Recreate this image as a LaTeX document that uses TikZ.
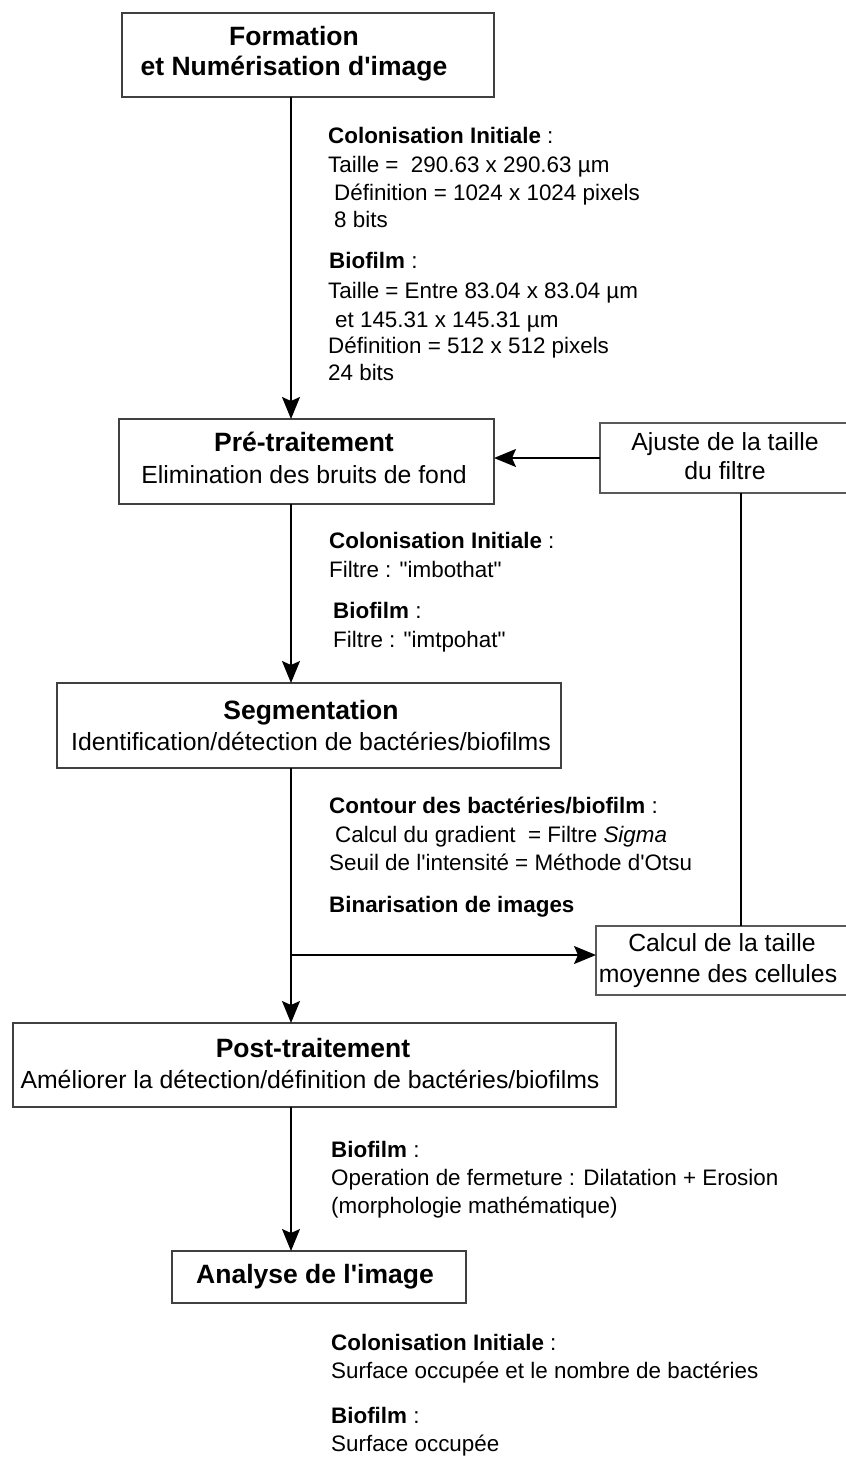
\documentclass[tikz,border=0pt]{standalone}
\usepackage{fontspec}
\setmainfont{Liberation Sans}
\usetikzlibrary{arrows.meta}
\newcommand\myapos{\textquotesingle}
\newcommand\mydq{\textquotedbl}
\begin{document}
\begin{tikzpicture}[x=1pt,y=-1pt,
  mainbox/.style={draw=black!75,line width=1.9pt,inner sep=0pt,outer sep=0pt,rectangle},
  sidebox/.style={draw=black!65,line width=1.3pt,inner sep=0pt,outer sep=0pt,rectangle},
  ttl/.style={anchor=base,inner sep=0pt,font=\fontsize{26.5}{30}\selectfont\bfseries},
  bodytxt/.style={anchor=base,inner sep=0pt,font=\fontsize{24.8}{30}\selectfont},
  ann/.style={anchor=base west,inner sep=0pt,font=\fontsize{22.4}{28}\selectfont},
  conn/.style={line width=1.6pt,black},
  arr/.style={conn,-{Stealth[length=22pt,width=18pt,inset=4pt]}}]
\useasboundingbox (0,0) rectangle (846,1457);
\fill[white] (0,0) rectangle (846,1457);

% boxes
\node[mainbox,minimum width=372pt,minimum height=84pt] (b1) at (308,55) {};
\node[mainbox,minimum width=375pt,minimum height=85pt] (b2) at (306.5,461.5) {};
\node[sidebox,minimum width=252pt,minimum height=70pt] (aj) at (726,458) {};
\node[mainbox,minimum width=504pt,minimum height=85pt] (b3) at (309,725.5) {};
\node[sidebox,minimum width=256pt,minimum height=69pt] (calc) at (724,960.5) {};
\node[mainbox,minimum width=603pt,minimum height=84pt] (b4) at (314.5,1065) {};
\node[mainbox,minimum width=294pt,minimum height=52pt] (b5) at (319,1277) {};

% box texts
\node[ttl] (t1a) at (294,45) {Formation};
\node[ttl] (t1b) at (294,75) {et Numérisation d\myapos image};
\node[ttl] (t2a) at (304,451) {Pré-traitement};
\node[bodytxt] (t2b) at (304,483) {Elimination des bruits de fond};
\node[bodytxt] (aja) at (725,450) {Ajuste de la taille};
\node[bodytxt] (ajb) at (725,479) {du filtre};
\node[ttl] (t3a) at (311,719) {Segmentation};
\node[bodytxt] (t3b) at (311,750) {Identification/détection de bactéries/biofilms};
\node[bodytxt] (ca) at (722,951) {Calcul de la taille};
\node[bodytxt] (cb) at (718,982) {moyenne des cellules};
\node[ttl] (t4a) at (313,1057) {Post-traitement};
\node[bodytxt] (t4b) at (310,1088) {Améliorer la détection/définition de bactéries/biofilms};
\node[ttl] (t5a) at (315,1283) {Analyse de l\myapos image};

% annotations block 1
\node[ann] (a1) at (328,143) {\textbf{Colonisation Initiale} :};
\node[ann] (a2) at (328,172) {Taille =\ \ 290.63 x 290.63 µm};
\node[ann] (a3) at (334,200) {Définition = 1024 x 1024 pixels};
\node[ann] (a4) at (334,227) {8 bits};
\node[ann] (a5) at (329,268) {\textbf{Biofilm} :};
\node[ann] (a6) at (328,298) {Taille = Entre 83.04 x 83.04 µm};
\node[ann] (a7) at (335,327) {et 145.31 x 145.31 µm};
\node[ann] (a8) at (328,353) {Définition = 512 x 512 pixels};
\node[ann] (a9) at (328,380) {24 bits};

% block 2
\node[ann] (p1) at (329,548) {\textbf{Colonisation Initiale} :};
\node[ann] (p2) at (329,577) {Filtre : \mydq imbothat\mydq};
\node[ann] (p3) at (333,618) {\textbf{Biofilm} :};
\node[ann] (p4) at (333,647) {Filtre : \mydq imtpohat\mydq};

% block 3
\node[ann] (s1) at (329,813) {\textbf{Contour des bactéries/biofilm} :};
\node[ann] (s2) at (335,842) {Calcul du gradient\ \ = Filtre \textit{Sigma}};
\node[ann] (s3) at (329,870) {Seuil de l\myapos intensité = Méthode d\myapos Otsu};
\node[ann] (s4) at (329,912) {\textbf{Binarisation de images}};

% block 4
\node[ann] (q1) at (331,1157) {\textbf{Biofilm} :};
\node[ann] (q2) at (331,1185) {Operation de fermeture : Dilatation + Erosion};
\node[ann] (q3) at (331,1213) {(morphologie mathématique)};

% block 5
\node[ann] (r1) at (331,1350) {\textbf{Colonisation Initiale} :};
\node[ann] (r2) at (331,1378) {Surface occupée et le nombre de bactéries};
\node[ann] (r3) at (331,1423) {\textbf{Biofilm} :};
\node[ann] (r4) at (331,1451) {Surface occupée};

% connectors
\coordinate (axis) at (291,0);
\coordinate (vx) at (741,0);
\coordinate (br) at (291,955);
\draw[arr] (b1.south -| axis) -- (b2.north -| axis);
\draw[arr] (aj.west) -- (aj.west -| b2.east);
\draw[conn] (aj.south -| vx) -- (calc.north -| vx);
\draw[arr] (b2.south -| axis) -- (b3.north -| axis);
\draw[arr] (b3.south -| axis) -- (b4.north -| axis);
\draw[arr] (br) -- (br -| calc.west);
\draw[arr] (b4.south -| axis) -- (b5.north -| axis);
\end{tikzpicture}
\end{document}
